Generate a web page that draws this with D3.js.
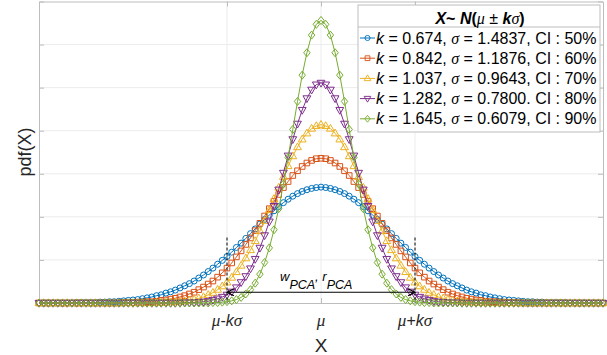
<!DOCTYPE html>
<html><head><meta charset="utf-8">
<script src="https://cdn.jsdelivr.net/npm/d3@7/dist/d3.min.js"></script>
<style>
body{margin:0;background:#fff;}
svg{display:block;font-family:"Liberation Sans",Arial,sans-serif;}
</style></head><body>
<svg id="chart" width="607" height="355"></svg>
<script>
// ---------------- DATA ----------------
const xValues = [
 -6.0,-5.9,-5.8,-5.7,-5.6,-5.5,-5.4,-5.3,-5.2,-5.1,
 -5.0,-4.9,-4.8,-4.7,-4.6,-4.5,-4.4,-4.3,-4.2,-4.1,
 -4.0,-3.9,-3.8,-3.7,-3.6,-3.5,-3.4,-3.3,-3.2,-3.1,
 -3.0,-2.9,-2.8,-2.7,-2.6,-2.5,-2.4,-2.3,-2.2,-2.1,
 -2.0,-1.9,-1.8,-1.7,-1.6,-1.5,-1.4,-1.3,-1.2,-1.1,
 -1.0,-0.9,-0.8,-0.7,-0.6,-0.5,-0.4,-0.3,-0.2,-0.1,
 0.0,
 0.1,0.2,0.3,0.4,0.5,0.6,0.7,0.8,0.9,1.0,
 1.1,1.2,1.3,1.4,1.5,1.6,1.7,1.8,1.9,2.0,
 2.1,2.2,2.3,2.4,2.5,2.6,2.7,2.8,2.9,3.0,
 3.1,3.2,3.3,3.4,3.5,3.6,3.7,3.8,3.9,4.0,
 4.1,4.2,4.3,4.4,4.5,4.6,4.7,4.8,4.9,5.0,
 5.1,5.2,5.3,5.4,5.5,5.6,5.7,5.8,5.9,6.0];

const pdfCI50 = [
 0.000,0.000,0.000,0.000,0.000,0.000,0.000,0.000,0.001,0.001,
 0.001,0.001,0.001,0.002,0.002,0.003,0.003,0.004,0.005,0.006,
 0.007,0.008,0.010,0.012,0.014,0.017,0.019,0.023,0.026,0.030,
 0.035,0.040,0.045,0.051,0.058,0.065,0.073,0.081,0.090,0.099,
 0.108,0.118,0.129,0.139,0.150,0.161,0.172,0.183,0.194,0.204,
 0.214,0.224,0.233,0.241,0.248,0.254,0.259,0.263,0.266,0.268,
 0.269,
 0.268,0.266,0.263,0.259,0.254,0.248,0.241,0.233,0.224,0.214,
 0.204,0.194,0.183,0.172,0.161,0.150,0.139,0.129,0.118,0.108,
 0.099,0.090,0.081,0.073,0.065,0.058,0.051,0.045,0.040,0.035,
 0.030,0.026,0.023,0.019,0.017,0.014,0.012,0.010,0.008,0.007,
 0.006,0.005,0.004,0.003,0.003,0.002,0.002,0.001,0.001,0.001,
 0.001,0.001,0.000,0.000,0.000,0.000,0.000,0.000,0.000,0.000];

const pdfCI60 = [
 0.000,0.000,0.000,0.000,0.000,0.000,0.000,0.000,0.000,0.000,
 0.000,0.000,0.000,0.000,0.000,0.000,0.000,0.000,0.001,0.001,
 0.001,0.002,0.002,0.003,0.003,0.004,0.006,0.007,0.009,0.011,
 0.014,0.017,0.021,0.025,0.031,0.037,0.044,0.051,0.060,0.070,
 0.081,0.093,0.107,0.121,0.136,0.151,0.168,0.185,0.202,0.219,
 0.236,0.252,0.268,0.282,0.296,0.307,0.317,0.325,0.331,0.335,
 0.336,
 0.335,0.331,0.325,0.317,0.307,0.296,0.282,0.268,0.252,0.236,
 0.219,0.202,0.185,0.168,0.151,0.136,0.121,0.107,0.093,0.081,
 0.070,0.060,0.051,0.044,0.037,0.031,0.025,0.021,0.017,0.014,
 0.011,0.009,0.007,0.006,0.004,0.003,0.003,0.002,0.002,0.001,
 0.001,0.001,0.000,0.000,0.000,0.000,0.000,0.000,0.000,0.000,
 0.000,0.000,0.000,0.000,0.000,0.000,0.000,0.000,0.000,0.000];

const pdfCI70 = [
 0.000,0.000,0.000,0.000,0.000,0.000,0.000,0.000,0.000,0.000,
 0.000,0.000,0.000,0.000,0.000,0.000,0.000,0.000,0.000,0.000,
 0.000,0.000,0.000,0.000,0.000,0.001,0.001,0.001,0.002,0.002,
 0.003,0.004,0.006,0.008,0.011,0.014,0.019,0.024,0.031,0.039,
 0.048,0.059,0.072,0.087,0.104,0.123,0.144,0.167,0.191,0.216,
 0.242,0.268,0.293,0.318,0.341,0.362,0.380,0.394,0.405,0.411,
 0.414,
 0.411,0.405,0.394,0.380,0.362,0.341,0.318,0.293,0.268,0.242,
 0.216,0.191,0.167,0.144,0.123,0.104,0.087,0.072,0.059,0.048,
 0.039,0.031,0.024,0.019,0.014,0.011,0.008,0.006,0.004,0.003,
 0.002,0.002,0.001,0.001,0.001,0.000,0.000,0.000,0.000,0.000,
 0.000,0.000,0.000,0.000,0.000,0.000,0.000,0.000,0.000,0.000,
 0.000,0.000,0.000,0.000,0.000,0.000,0.000,0.000,0.000,0.000];

const pdfCI80 = [
 0.000,0.000,0.000,0.000,0.000,0.000,0.000,0.000,0.000,0.000,
 0.000,0.000,0.000,0.000,0.000,0.000,0.000,0.000,0.000,0.000,
 0.000,0.000,0.000,0.000,0.000,0.000,0.000,0.000,0.000,0.000,
 0.000,0.001,0.001,0.001,0.002,0.003,0.004,0.007,0.010,0.014,
 0.019,0.026,0.036,0.048,0.062,0.080,0.102,0.128,0.157,0.189,
 0.225,0.263,0.302,0.342,0.380,0.416,0.448,0.475,0.495,0.507,
 0.511,
 0.507,0.495,0.475,0.448,0.416,0.380,0.342,0.302,0.263,0.225,
 0.189,0.157,0.128,0.102,0.080,0.062,0.048,0.036,0.026,0.019,
 0.014,0.010,0.007,0.004,0.003,0.002,0.001,0.001,0.001,0.000,
 0.000,0.000,0.000,0.000,0.000,0.000,0.000,0.000,0.000,0.000,
 0.000,0.000,0.000,0.000,0.000,0.000,0.000,0.000,0.000,0.000,
 0.000,0.000,0.000,0.000,0.000,0.000,0.000,0.000,0.000,0.000];

const pdfCI90 = [
 0.000,0.000,0.000,0.000,0.000,0.000,0.000,0.000,0.000,0.000,
 0.000,0.000,0.000,0.000,0.000,0.000,0.000,0.000,0.000,0.000,
 0.000,0.000,0.000,0.000,0.000,0.000,0.000,0.000,0.000,0.000,
 0.000,0.000,0.000,0.000,0.000,0.000,0.000,0.001,0.001,0.002,
 0.003,0.005,0.008,0.013,0.021,0.031,0.046,0.067,0.094,0.128,
 0.170,0.219,0.276,0.338,0.403,0.468,0.529,0.581,0.622,0.647,
 0.656,
 0.647,0.622,0.581,0.529,0.468,0.403,0.338,0.276,0.219,0.170,
 0.128,0.094,0.067,0.046,0.031,0.021,0.013,0.008,0.005,0.003,
 0.002,0.001,0.001,0.000,0.000,0.000,0.000,0.000,0.000,0.000,
 0.000,0.000,0.000,0.000,0.000,0.000,0.000,0.000,0.000,0.000,
 0.000,0.000,0.000,0.000,0.000,0.000,0.000,0.000,0.000,0.000,
 0.000,0.000,0.000,0.000,0.000,0.000,0.000,0.000,0.000,0.000];

const kLabels = ["0.674","0.842","1.037","1.282","1.645"];
const sigmaLabels = ["1.4837","1.1876","0.9643","0.7800","0.6079"];
const sigmaSeparators = [",", ",", ",", ".", ","];
const ciLabels = ["50%","60%","70%","80%","90%"];
const xTickValues = [-2, 0, 2];
const xTickLabels = ["μ-kσ", "μ", "μ+kσ"];
const yTickValues = [0, 0.1, 0.2, 0.3, 0.4, 0.5, 0.6, 0.7];
const intervalBounds = [-2, 2];

// ---------------- STYLES ----------------
const colors = ["#0072BD","#D95319","#EDB120","#7E2F8E","#77AC30"];
const markerPaths = [
  "M3,0A3,3 0 1,1 -3,0A3,3 0 1,1 3,0Z",
  "M-2.8,-2.8H2.8V2.8H-2.8Z",
  "M0,-4.2L3.9,2.6H-3.9Z",
  "M0,4.2L3.9,-2.6H-3.9Z",
  "M0,-4L3.2,0L0,4L-3.2,0Z"
];
const seriesValues = [pdfCI50, pdfCI60, pdfCI70, pdfCI80, pdfCI90];

const svg = d3.select("#chart");
const x = d3.scaleLinear().domain([-6, 6]).range([39, 603]);
const y = d3.scaleLinear().domain([0, 0.7]).range([303, 1.5]);
const axisColor = "#bdbdbd";
const gridColor = "#ececec";
const textColor = "#262626";

// grid
const grid = svg.append("g");
grid.selectAll(".hg").data(yTickValues.slice(1, -1)).join("line")
  .attr("x1", x(-6)).attr("x2", x(6))
  .attr("y1", d => y(d)).attr("y2", d => y(d))
  .attr("stroke", gridColor).attr("stroke-width", 1);
grid.selectAll(".vg").data(xTickValues).join("line")
  .attr("x1", d => x(d)).attr("x2", d => x(d))
  .attr("y1", y(0)).attr("y2", y(0.7))
  .attr("stroke", gridColor).attr("stroke-width", 1);

// axes (MATLAB box, inward ticks)
function styleAxis(g) {
  g.select(".domain").attr("stroke", axisColor);
  g.selectAll(".tick line").attr("stroke", axisColor);
  g.selectAll(".tick text").remove();
}
svg.append("g").attr("transform", `translate(0,${y(0)})`)
  .call(d3.axisBottom(x).tickValues(xTickValues).tickSizeInner(-5).tickSizeOuter(0).tickFormat(""))
  .call(styleAxis);
svg.append("g").attr("transform", `translate(0,${y(0.7)})`)
  .call(d3.axisTop(x).tickValues(xTickValues).tickSizeInner(-5).tickSizeOuter(0).tickFormat(""))
  .call(styleAxis);
svg.append("g").attr("transform", `translate(${x(-6)},0)`)
  .call(d3.axisLeft(y).tickValues(yTickValues).tickSizeInner(-5).tickSizeOuter(0).tickFormat(""))
  .call(styleAxis);
svg.append("g").attr("transform", `translate(${x(6)},0)`)
  .call(d3.axisRight(y).tickValues(yTickValues).tickSizeInner(-5).tickSizeOuter(0).tickFormat(""))
  .call(styleAxis);

// x tick labels with greek/italic parts
function richText(sel, str, size) {
  for (const ch of str) {
    const t = sel.append("tspan").text(ch);
    if (ch === "μ" || ch === "σ") t.attr("font-family", "'Liberation Serif','DejaVu Serif',serif").attr("font-style", "italic").attr("font-size", size + 1);
    else if (ch === "k") t.attr("font-style", "italic");
  }
}
xTickValues.forEach((v, i) => {
  const t = svg.append("text").attr("x", x(v)).attr("y", 326)
    .attr("text-anchor", "middle").attr("font-size", 16).attr("fill", textColor);
  richText(t, xTickLabels[i], 16);
});

// axis titles
svg.append("text").attr("x", x(0)).attr("y", 352).attr("text-anchor", "middle")
  .attr("font-size", 19).attr("fill", textColor).text("X");
svg.append("text").attr("transform", "translate(31,152) rotate(-90)")
  .attr("text-anchor", "middle").attr("font-size", 18).attr("fill", textColor).text("pdf(X)");

// curves
const line = d3.line().x((d, i) => x(xValues[i])).y(d => y(d));
seriesValues.forEach((vals, s) => {
  const g = svg.append("g");
  g.append("path").attr("d", line(vals)).attr("fill", "none")
    .attr("stroke", colors[s]).attr("stroke-width", 1);
  g.selectAll("path.m").data(vals).join("path").attr("class", "m")
    .attr("d", markerPaths[s])
    .attr("transform", (d, i) => `translate(${x(xValues[i])},${y(d)})`)
    .attr("fill", "none").attr("stroke", colors[s]).attr("stroke-width", 1);
});

// annotation: interval bounds and double arrow
const annY = y(0.025);
intervalBounds.forEach(b => {
  svg.append("line").attr("x1", x(b)).attr("x2", x(b))
    .attr("y1", y(0.152)).attr("y2", y(0))
    .attr("stroke", "#000").attr("stroke-width", 1).attr("stroke-dasharray", "3,2");
});
svg.append("line").attr("x1", x(intervalBounds[0])).attr("x2", x(intervalBounds[1]))
  .attr("y1", annY).attr("y2", annY).attr("stroke", "#000").attr("stroke-width", 1.2);
const xl = x(intervalBounds[0]), xr = x(intervalBounds[1]);
svg.append("path").attr("d", `M${xl + 7},${annY - 3.5}L${xl},${annY}L${xl + 7},${annY + 3.5}`)
  .attr("fill", "none").attr("stroke", "#000").attr("stroke-width", 1.2);
svg.append("path").attr("d", `M${xr - 7},${annY - 3.5}L${xr},${annY}L${xr - 7},${annY + 3.5}`)
  .attr("fill", "none").attr("stroke", "#000").attr("stroke-width", 1.2);
const ann = svg.append("text").attr("x", x(0) - 41).attr("y", annY - 11)
  .attr("font-size", 13).attr("fill", "#000").attr("font-style", "italic");
ann.append("tspan").text("w");
ann.append("tspan").attr("dy", 8).attr("font-size", 12.5).text("PCA");
ann.append("tspan").attr("dy", -8).text(", r");
ann.append("tspan").attr("dy", 8).attr("font-size", 12.5).text("PCA");

// legend
const lg = svg.append("g");
const lx0 = 358, lx1 = 600, ly0 = 5, ly1 = 132;
lg.append("rect").attr("x", lx0).attr("y", ly0).attr("width", lx1 - lx0).attr("height", ly1 - ly0)
  .attr("fill", "#fff").attr("stroke", axisColor);
lg.append("line").attr("x1", lx0).attr("x2", lx1).attr("y1", 27).attr("y2", 27).attr("stroke", axisColor);
const title = lg.append("text").attr("x", (lx0 + lx1) / 2 + 1).attr("y", 23.5)
  .attr("text-anchor", "middle").attr("font-size", 16).attr("font-weight", "bold").attr("fill", "#000");
title.append("tspan").attr("font-style", "italic").text("X");
title.append("tspan").text("~ ");
title.append("tspan").attr("font-style", "italic").text("N");
title.append("tspan").text("(");
title.append("tspan").attr("font-family", "'Liberation Serif',serif").attr("font-style", "italic").attr("font-weight", "normal").text("μ");
title.append("tspan").attr("font-weight", "normal").text(" ± ");
title.append("tspan").attr("font-style", "italic").text("k");
title.append("tspan").attr("font-family", "'Liberation Serif',serif").attr("font-style", "italic").attr("font-weight", "normal").text("σ");
title.append("tspan").text(")");

kLabels.forEach((k, i) => {
  const cy = 38 + i * 20.2;
  lg.append("line").attr("x1", 360).attr("x2", 375).attr("y1", cy).attr("y2", cy)
    .attr("stroke", colors[i]).attr("stroke-width", 1);
  lg.append("path").attr("d", markerPaths[i]).attr("transform", `translate(367.5,${cy}) scale(0.85)`)
    .attr("fill", "none").attr("stroke", colors[i]).attr("stroke-width", 1.1);
  const t = lg.append("text").attr("x", 376).attr("y", cy + 5.5).attr("font-size", 16).attr("fill", "#000");
  t.append("tspan").attr("font-style", "italic").text("k");
  t.append("tspan").text(` = ${k}, `);
  t.append("tspan").attr("font-family", "'Liberation Serif',serif").attr("font-style", "italic").text("σ");
  t.append("tspan").text(` = ${sigmaLabels[i]}${sigmaSeparators[i]} CI : ${ciLabels[i]}`);
});
</script>
</body></html>
